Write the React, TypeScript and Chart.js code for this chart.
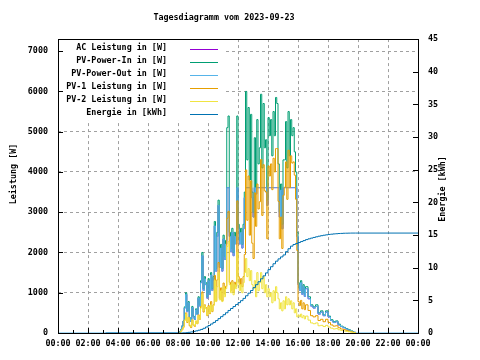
import React, { useEffect, useRef } from "react";
import { Chart, registerables } from "chart.js";

Chart.register(...registerables);

const chartTitle = "Tagesdiagramm vom 2023-09-23";
const leftAxisTitle = "Leistung [W]";
const rightAxisTitle = "Energie [kWh]";

const xTickLabels = ["00:00", "02:00", "04:00", "06:00", "08:00", "10:00", "12:00", "14:00", "16:00", "18:00", "20:00", "22:00", "00:00"];
const powerTicks = [0, 1000, 2000, 3000, 4000, 5000, 6000, 7000];

// sample times of the power series
const times = [
  "00:00", "03:10",
  "08:00", "08:05", "08:10", "08:15", "08:20", "08:25", "08:30", "08:35", "08:40", "08:45", "08:50", "08:55",
  "09:00", "09:05", "09:10", "09:15", "09:20", "09:25", "09:30", "09:35", "09:40", "09:45", "09:50", "09:55",
  "10:00", "10:05", "10:10", "10:15", "10:20", "10:25", "10:30", "10:35", "10:40", "10:45", "10:50", "10:55",
  "11:00", "11:05", "11:10", "11:15", "11:20", "11:25", "11:30", "11:35", "11:40", "11:45", "11:50", "11:55",
  "12:00", "12:05", "12:10", "12:15", "12:20", "12:25", "12:30", "12:35", "12:40", "12:45", "12:50", "12:55",
  "13:00", "13:05", "13:10", "13:15", "13:20", "13:25", "13:30", "13:35", "13:40", "13:45", "13:50", "13:55",
  "14:00", "14:05", "14:10", "14:15", "14:20", "14:25", "14:30", "14:35", "14:40", "14:45", "14:50", "14:55",
  "15:00", "15:05", "15:10", "15:15", "15:20", "15:25", "15:30", "15:35", "15:40", "15:45", "15:50", "15:55",
  "16:00", "16:05", "16:10", "16:15", "16:20", "16:25",
  "16:30", "16:40", "16:50", "17:00", "17:10", "17:20", "17:30", "17:40", "17:50", "18:00", "18:10",
  "18:20", "18:30", "18:40", "18:50", "19:00", "19:10", "19:20", "19:30", "19:40", "19:50",
  "24:00",
];

const pvPowerIn = [
  null, null,
  0, 30, 90, 180, 300, 650, 1000, 550, 780, 380, 300, 660,
  420, 350, 600, 480, 900, 700, 1300, 2000, 1100, 1400, 1250, 900,
  1350, 1000, 1500, 1100, 1400, 2770, 1600, 2500, 3300, 1700, 2200, 1600,
  2430, 1900, 2300, 5100, 5390, 2500, 2100, 2600, 2000, 2500, 2300, 5390,
  2700, 2300, 2600, 2200, 2700, 3500, 6000, 4300, 5600, 3800, 5430, 3500,
  3000, 4850, 3600, 5300, 4200, 4600, 5930, 4100, 5700, 4600, 4800, 3300,
  5350, 4900, 5300, 4400, 5500, 4900, 5850, 5700, 4200, 3000, 3700, 2700,
  4300, 4300, 5250, 4100, 5500, 4400, 5300, 4900, 5100, 4500, 4000, 2500,
  1250, 1100, 1300, 1000, 1200, 950,
  1150, 900, 700, 650, 700, 500, 550, 450, 550, 420, 330,
  280, 300, 220, 170, 140, 110, 80, 50, 20, 0,
  null,
];

const pvPowerOut = [
  0, 0,
  0, 25, 85, 170, 290, 620, 960, 530, 750, 365, 290, 630,
  400, 335, 575, 460, 865, 670, 1250, 1920, 1055, 1345, 1200, 865,
  1295, 960, 1440, 1055, 1345, 2660, 1535, 2400, 3170, 1630, 2110, 1535,
  2330, 1825, 2210, 3610, 3610, 2400, 2015, 2495, 1920, 2400, 2210, 3610,
  2590, 2210, 2495, 2110, 2590, 3360, 3610, 3610, 3610, 3610, 3610, 3360,
  2880, 3610, 3455, 3610, 3610, 3610, 3610, 3610, 3610, 3610, 3610, 3170,
  3610, 3610, 3610, 3610, 3610, 3610, 3610, 3610, 3610, 2880, 3550, 2590,
  3610, 3610, 3610, 3610, 3610, 3610, 3610, 3610, 3610, 3610, 3610, 2400,
  1200, 1055, 1250, 960, 1150, 910,
  1100, 850, 670, 620, 660, 470, 520, 430, 520, 400, 310,
  260, 280, 200, 160, 130, 100, 70, 40, 15, 0,
  0,
];

const acPower = [
  null, null,
  0, 25, 85, 170, 290, 620, 960, 530, 750, 365, 290, 630,
  400, 335, 575, 460, 865, 670, 1250, 1920, 1055, 1345, 1200, 865,
  1295, 960, 1440, 1055, 1345, 2660, 1535, 2400, 3170, 1630, 2110, 1535,
  2330, 1825, 2210, 3610, 3610, 2400, 2015, 2495, 1920, 2400, 2210, 3610,
  2590, 2210, 2495, 2110, 2590, 3360, 3610, 3610, 3610, 3610, 3610, 3360,
  2880, 3610, 3455, 3610, 3610, 3610, 3610, 3610, 3610, 3610, 3610, 3170,
  3610, 3610, 3610, 3610, 3610, 3610, 3610, 3610, 3610, 2880, 3550, 2590,
  3610, 3610, 3610, 3610, 3610, 3610, 3610, 3610, 3610, 3610, 3610, 2400,
  1200, 1055, 1250, 960, 1150, 910,
  1100, 850, 670, 620, 660, 470, 520, 430, 520, 400, 310,
  260, 280, 200, 160, 130, 100, 70, 40, 15, 0,
  null,
];

const pv1Power = [
  null, null,
  0, 15, 45, 85, 145, 320, 500, 260, 390, 175, 135, 320,
  200, 165, 290, 230, 450, 340, 660, 1020, 520, 700, 630, 430,
  680, 480, 780, 530, 700, 1430, 800, 1320, 1750, 860, 1120, 800,
  1240, 970, 1160, 2850, 3020, 1260, 1060, 1300, 1010, 1260, 1160, 3280,
  1400, 1200, 1350, 1150, 1400, 1950, 4050, 2800, 3900, 2430, 3780, 2230,
  1850, 3480, 2650, 3700, 3080, 3260, 4310, 2920, 4180, 3530, 3500, 2340,
  4150, 3900, 4200, 3560, 4340, 4000, 4580, 4580, 3270, 2340, 2880, 2100,
  3420, 3620, 4250, 3320, 4540, 3610, 4400, 4220, 4250, 3920, 3320, 2050,
  780, 680, 810, 600, 750, 580,
  700, 560, 430, 400, 430, 310, 340, 280, 340, 260, 200,
  170, 180, 130, 100, 85, 65, 45, 30, 10, 0,
  null,
];

const pv2Power = [
  null, null,
  0, 15, 45, 90, 150, 320, 480, 280, 380, 200, 160, 330,
  210, 180, 300, 240, 430, 350, 620, 950, 560, 680, 600, 450,
  650, 500, 700, 550, 680, 1300, 780, 1150, 1500, 820, 1050, 780,
  1150, 900, 1100, 2150, 2270, 1200, 1000, 1250, 950, 1200, 1100, 2000,
  1250, 1050, 1200, 1000, 1250, 1500, 1850, 1400, 1600, 1300, 1550, 1200,
  1100, 1300, 900, 1500, 1050, 1250, 1500, 1100, 1400, 1000, 1200, 900,
  1100, 900, 1000, 750, 1050, 800, 1150, 1000, 850, 600, 750, 550,
  800, 600, 900, 700, 850, 700, 800, 600, 750, 500, 600, 400,
  450, 400, 470, 380, 430, 350,
  420, 320, 250, 230, 250, 180, 190, 160, 190, 150, 120,
  100, 110, 80, 65, 50, 40, 30, 20, 8, 0,
  null,
];

// sample times of the energy counter
const energyTimes = [
  "03:10",
  "08:00", "08:10", "08:20", "08:30", "08:40", "08:50",
  "09:00", "09:10", "09:20", "09:30", "09:40", "09:50",
  "10:00", "10:10", "10:20", "10:30", "10:40", "10:50",
  "11:00", "11:10", "11:20", "11:30", "11:40", "11:50",
  "12:00", "12:10", "12:20", "12:30", "12:40", "12:50",
  "13:00", "13:10", "13:20", "13:30", "13:40", "13:50",
  "14:00", "14:10", "14:20", "14:30", "14:40", "14:50",
  "15:00", "15:10", "15:20", "15:30", "15:40", "15:50",
  "16:00", "16:10", "16:20", "16:30", "16:40", "16:50",
  "17:00", "17:10", "17:20", "17:30", "17:40", "17:50",
  "18:00", "18:10", "18:20", "18:30", "18:40", "18:50",
  "19:00", "19:10", "19:20", "19:30", "19:40", "19:50",
  "24:00",
];

const energyKWh = [
  0,
  0, 0, 0.02, 0.05, 0.1, 0.16,
  0.24, 0.33, 0.43, 0.55, 0.72, 0.92,
  1.15, 1.38, 1.62, 1.9, 2.2, 2.5,
  2.8, 3.1, 3.45, 3.75, 4.05, 4.35,
  4.65, 4.95, 5.3, 5.7, 6.1, 6.5,
  6.95, 7.4, 7.85, 8.3, 8.75, 9.2,
  9.7, 10.15, 10.6, 11.0, 11.35, 11.65,
  11.95, 12.45, 12.9, 13.3, 13.55, 13.7,
  13.85, 14.0, 14.15, 14.3, 14.42, 14.53,
  14.63, 14.73, 14.82, 14.9, 14.97, 15.03,
  15.09, 15.13, 15.17, 15.2, 15.23, 15.25,
  15.27, 15.28, 15.29, 15.3, 15.3, 15.3,
  15.3,
];

const FONT_FAMILY = '"DejaVu Sans Mono", monospace';
const FONT_SIZE = 8.4;
const FONT_WEIGHT = "bold";

function toHours(t: string): number {
  const [h, m] = t.split(":").map(Number);
  return h + m / 60;
}

function series(ts: string[], values: (number | null)[]) {
  return ts.map((t, i) => ({ x: toHours(t), y: values[i] }));
}

const gnuplotDecor = {
  id: "gnuplotDecor",
  afterDatasetsDraw(chart: any) {
    const { ctx, chartArea: a, scales } = chart;
    const L = Math.round(a.left);
    const R = Math.round(a.right);
    const T = Math.round(a.top);
    const B = Math.round(a.bottom);
    ctx.save();

    // key (legend) box background
    ctx.fillStyle = "#ffffff";
    ctx.fillRect(L + 1, T + 1, 224 - L - 1, 119 - T);

    ctx.font = `${FONT_WEIGHT} ${FONT_SIZE}px ${FONT_FAMILY}`;
    ctx.textAlign = "right";
    ctx.textBaseline = "middle";
    chart.data.datasets.forEach((ds: any, i: number) => {
      const ty = 48 + 13 * i;
      ctx.fillStyle = "#000";
      ctx.fillText(ds.label, 167, ty);
      ctx.strokeStyle = ds.borderColor;
      ctx.lineWidth = 1;
      ctx.beginPath();
      ctx.moveTo(190, ty + 1.5);
      ctx.lineTo(218, ty + 1.5);
      ctx.stroke();
    });

    // inner tick marks
    ctx.strokeStyle = "#000";
    ctx.lineWidth = 1;
    ctx.beginPath();
    scales.y.ticks.forEach((t: any) => {
      const py = Math.round(scales.y.getPixelForValue(t.value)) + 0.5;
      ctx.moveTo(L, py);
      ctx.lineTo(L + 5, py);
    });
    scales.y2.ticks.forEach((t: any) => {
      const py = Math.round(scales.y2.getPixelForValue(t.value)) + 0.5;
      ctx.moveTo(R, py);
      ctx.lineTo(R - 5, py);
    });
    for (let h = 1; h < 24; h++) {
      const px = Math.round(scales.x.getPixelForValue(h)) + 0.5;
      const len = h % 2 === 0 ? 5 : 3;
      ctx.moveTo(px, B);
      ctx.lineTo(px, B - len);
    }
    ctx.stroke();

    // border frame
    ctx.strokeRect(L + 0.5, T + 0.5, R - L, B - T);

    // axis titles
    ctx.fillStyle = "#000";
    ctx.textAlign = "center";
    ctx.textBaseline = "middle";
    ctx.save();
    ctx.translate(14, 174);
    ctx.rotate(-Math.PI / 2);
    ctx.fillText(leftAxisTitle, 0, 0);
    ctx.restore();
    ctx.save();
    ctx.translate(443, 189);
    ctx.rotate(-Math.PI / 2);
    ctx.fillText(rightAxisTitle, 0, 0);
    ctx.restore();

    ctx.restore();
  },
};

export default function App() {
  const canvasRef = useRef<HTMLCanvasElement | null>(null);

  useEffect(() => {
    document.body.style.margin = "0";
    const canvas = canvasRef.current;
    if (!canvas) return;

    const common = {
      borderWidth: 1,
      pointRadius: 0,
      pointHoverRadius: 0,
      fill: false,
      spanGaps: false,
      tension: 0,
      stepped: true,
    };
    const tickFont = { family: FONT_FAMILY, size: FONT_SIZE, weight: FONT_WEIGHT };
    const gridOpts = { color: "#a0a0a0", lineWidth: 1, drawTicks: false };

    const chart = new Chart(canvas, {
      type: "line",
      data: {
        datasets: [
          { ...common, label: "AC Leistung in [W]", data: series(times, acPower), borderColor: "#9400d3", yAxisID: "y", order: 5 },
          { ...common, label: "PV-Power-In in [W]", data: series(times, pvPowerIn), borderColor: "#009e73", yAxisID: "y", order: 4 },
          { ...common, label: "PV-Power-Out in [W]", data: series(times, pvPowerOut), borderColor: "#56b4e9", yAxisID: "y", order: 3 },
          { ...common, label: "PV-1 Leistung in [W]", data: series(times, pv1Power), borderColor: "#e69f00", yAxisID: "y", order: 2 },
          { ...common, label: "PV-2 Leistung in [W]", data: series(times, pv2Power), borderColor: "#f0e442", yAxisID: "y", order: 1 },
          { ...common, label: "Energie in [kWh]", data: series(energyTimes, energyKWh), borderColor: "#0072b2", yAxisID: "y2", order: 0 },
        ] as any,
      },
      options: {
        responsive: false,
        animation: false,
        devicePixelRatio: 1,
        events: [],
        layout: { padding: { left: 0, right: 32, top: 0, bottom: 0 } },
        plugins: {
          legend: { display: false },
          tooltip: { enabled: false },
          title: {
            display: true,
            text: chartTitle,
            color: "#000",
            font: { family: FONT_FAMILY, size: FONT_SIZE, weight: FONT_WEIGHT },
            padding: { top: 13, bottom: 16 },
          },
        },
        scales: {
          x: {
            type: "linear",
            position: "bottom",
            min: 0,
            max: 24,
            afterFit: (s: any) => { s.height = 27; },
            ticks: {
              stepSize: 2,
              autoSkip: false,
              maxRotation: 0,
              minRotation: 0,
              includeBounds: false,
              padding: 6,
              color: "#000",
              font: tickFont,
              callback: (v: any) => xTickLabels[Math.round(Number(v) / 2)],
            },
            grid: gridOpts,
            border: { display: false, dash: [3, 3] },
          },
          y: {
            type: "linear",
            position: "left",
            min: 0,
            max: 7300,
            afterFit: (s: any) => { s.width = 58; },
            afterBuildTicks: (s: any) => { s.ticks = powerTicks.map((v) => ({ value: v })); },
            ticks: {
              padding: 10,
              color: "#000",
              font: tickFont,
              callback: (v: any) => String(v),
            },
            grid: gridOpts,
            border: { display: false, dash: [3, 3] },
          },
          y2: {
            type: "linear",
            position: "right",
            min: 0,
            max: 45,
            afterFit: (s: any) => { s.width = 30; },
            ticks: {
              stepSize: 5,
              includeBounds: false,
              padding: 10,
              color: "#000",
              font: tickFont,
              callback: (v: any) => String(v),
            },
            grid: { display: false, drawTicks: false },
            border: { display: false },
          },
        },
      } as any,
      plugins: [gnuplotDecor],
    });

    return () => {
      chart.destroy();
    };
  }, []);

  return (
    <div style={{ width: 480, height: 360 }}>
      <canvas ref={canvasRef} width={480} height={360} style={{ display: "block" }} />
    </div>
  );
}
